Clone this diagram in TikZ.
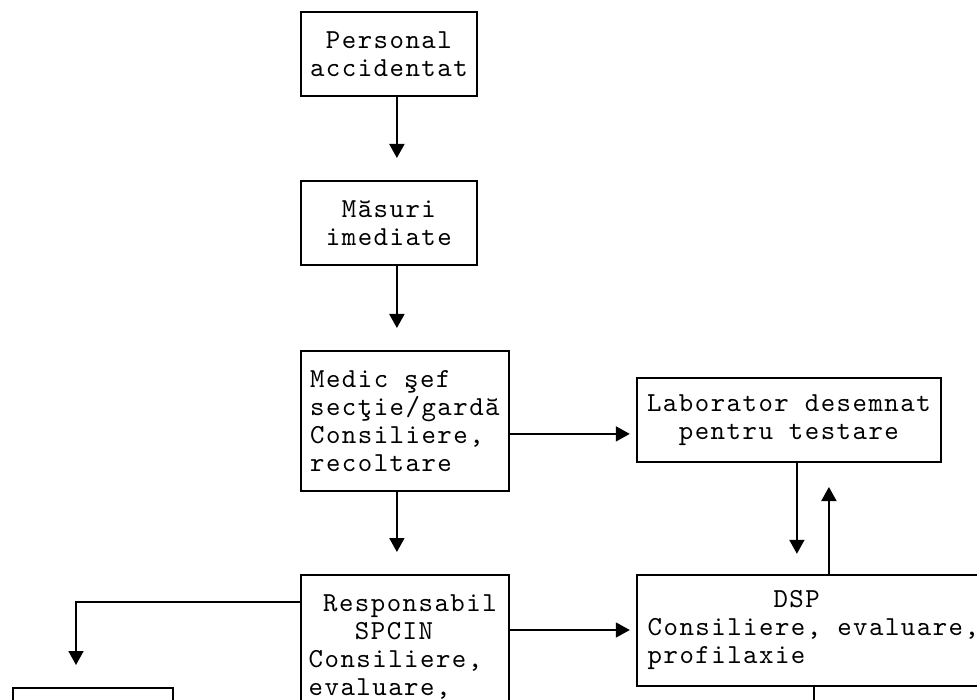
\documentclass[tikz,border=0pt]{standalone}
\usepackage{fontspec}
\usetikzlibrary{arrows.meta}
\newfontfamily\courfont[LetterSpace=5.4]{lmmono10-regular.otf}
\newcommand\boxfont{\courfont\fontsize{27.5pt}{28pt}\selectfont\spaceskip=15.93pt\relax}
\tikzset{
  box/.style={draw, line width=1.8pt, anchor=north west, inner sep=0pt, font=\boxfont},
  lbl/.style={inner sep=0pt, anchor=north west, align=left, font=\boxfont},
  conn/.style={line width=1.8pt, -{Triangle[length=0.05pt,width=0.05pt,sep=5pt]Triangle[width=15pt,length=14pt]}},
  plain/.style={line width=1.8pt}
}
\begin{document}
\begin{tikzpicture}[x=1pt,y=-1pt]
\useasboundingbox (0,0) rectangle (977,700);
\clip (0,0) rectangle (977,700);
% boxes
\node[box, minimum width=176pt, minimum height=84pt, align=center] (pers) at (300,11) {Personal\\accidentat};
\node[box, minimum width=176pt, minimum height=84pt, align=center] (mas) at (300,180) {Măsuri\\imediate};
\node[box, minimum width=208pt, minimum height=140pt, align=left] (medic) at (300,350) {Medic şef\\secţie/gardă\\Consiliere,\\recoltare};
\node[box, minimum width=304pt, minimum height=84pt, align=center] (lab) at (636,377) {Laborator desemnat\\pentru testare};
\node[box, minimum width=208pt, minimum height=200pt] (resp) at (300,574) {};
\node[lbl] (resptext) at (308.5,594) {\phantom{0}Responsabil\\\phantom{000}SPCIN\\Consiliere,\\evaluare,};
\node[box, minimum width=353pt, minimum height=111pt, align=left] (dsp) at (636,574) {\phantom{00000000}DSP\\Consiliere, evaluare,\\profilaxie};
\node[box, minimum width=160pt, minimum height=100pt] (bl) at (12,687) {};
% connectors
\draw[conn] ([xshift=8pt]pers.south) -- ([xshift=8pt,yshift=22pt]mas.north);
\draw[conn] ([xshift=8pt]mas.south) -- ([xshift=-8pt,yshift=22pt]medic.north);
\draw[conn] ([yshift=-13pt]medic.east) -- ++(120,0);
\draw[conn] ([xshift=-8pt]medic.south) -- ([xshift=-8pt,yshift=22pt]resp.north);
\draw[conn] ([yshift=-56pt]resp.north east) -- ++(120,0);
\draw[conn] ([xshift=8pt]lab.south) -- ++(0,91);
\draw[conn] ([xshift=15.5pt]dsp.north) -- ++(0,-87);
\draw[plain] ([xshift=0.5pt]dsp.south) -- ++(0,40);
\draw[conn] ([yshift=-28pt]resp.north west) -- ++(-224,0) -- ++(0,63);
\end{tikzpicture}
\end{document}
